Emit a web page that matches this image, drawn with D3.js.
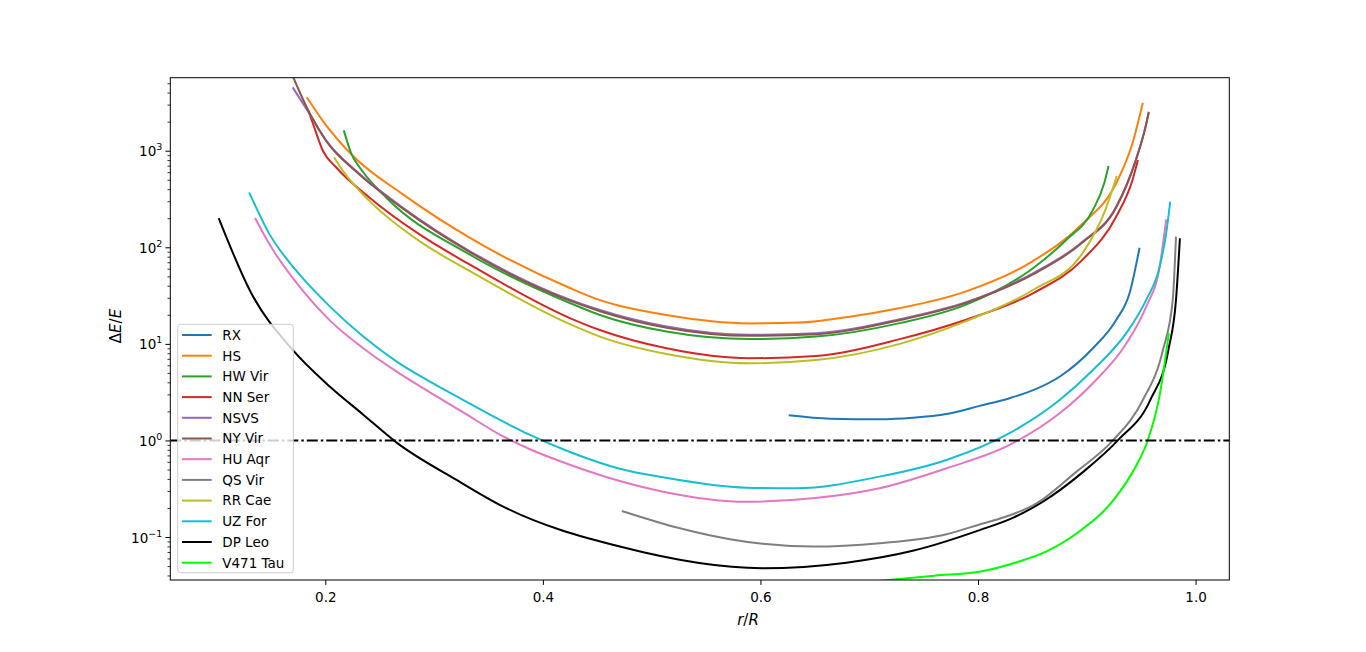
<!DOCTYPE html>
<html>
<head>
<meta charset="utf-8">
<script src="https://cdn.jsdelivr.net/npm/d3@7"></script>
<style>
  html, body { margin: 0; padding: 0; background: #fff; }
  svg { display: block; font-family: "DejaVu Sans", sans-serif; }
</style>
</head>
<body>
<div id="chart"></div>
<script>
// Series data: [r/R, dE/E] pairs
const rx = [[0.626, 1.82], [0.664, 1.68], [0.7095, 1.66], [0.74, 1.72], [0.771, 1.88], [0.8015, 2.28],
  [0.829, 2.74], [0.853, 3.4], [0.875, 4.57], [0.9056, 9.0], [0.927, 17.7], [0.9393, 33.4], [0.9485, 99]];
const hs = [[0.183, 3573], [0.198, 2014], [0.2257, 875], [0.2717, 351], [0.333, 125],
  [0.4248, 37.9], [0.4524, 28.4], [0.5137, 19.9], [0.590, 16.3], [0.636, 16.6], [0.682, 19.1],
  [0.7187, 22.4], [0.789, 35], [0.8505, 72], [0.896, 175], [0.927, 460], [0.942, 1193], [0.9515, 3140]];
const hwVir = [[0.217, 1626], [0.2243, 910], [0.232, 662], [0.2564, 324], [0.333, 83.8],
  [0.4248, 26.5], [0.4524, 19.9], [0.5137, 13.4], [0.590, 11.2], [0.651, 11.9], [0.728, 16.4],
  [0.789, 25.5], [0.8505, 60.7], [0.881, 119], [0.9056, 243], [0.916, 460], [0.920, 695]];
const nnSer = [[0.1844, 2596], [0.189, 1857], [0.198, 986], [0.2105, 662], [0.241, 324], [0.287, 135],
  [0.333, 66], [0.4248, 18.5], [0.4524, 13.9], [0.5137, 9.0], [0.590, 7.1],
  [0.651, 7.5], [0.728, 11.2], [0.789, 17.8], [0.8505, 33.4], [0.896, 74], [0.927, 207],
  [0.942, 497], [0.947, 801]];
const nsvs = [[0.170, 4530], [0.186, 2360], [0.2013, 1250], [0.2288, 612], [0.2717, 255], [0.333, 91],
  [0.4248, 28.7], [0.4524, 22.4], [0.5137, 15.1], [0.590, 12.4], [0.651, 12.9],
  [0.728, 18], [0.789, 27], [0.8505, 53.8], [0.896, 114], [0.927, 263], [0.945, 801], [0.954, 1770],
  [0.957, 2535]];
const nyVir = [[0.1686, 6500], [0.1767, 3980], [0.186, 2400], [0.2013, 1240], [0.2288, 600], [0.2717, 250],
  [0.333, 89], [0.4248, 28], [0.4524, 21.8], [0.5137, 14.7], [0.590, 12.1],
  [0.651, 12.6], [0.728, 17.6], [0.789, 26.6], [0.8505, 52.5], [0.896, 112], [0.927, 258],
  [0.945, 790], [0.954, 1760], [0.957, 2500]];
const huAqr = [[0.1354, 201], [0.149, 106], [0.1798, 35], [0.2043, 17.4], [0.2349, 9.0], [0.2656, 5.15],
  [0.2962, 3.15], [0.3268, 1.95], [0.3635, 1.1], [0.3881, 0.81], [0.4248, 0.56], [0.4707, 0.38],
  [0.5105, 0.295], [0.587, 0.232], [0.648, 0.252], [0.7095, 0.32], [0.771, 0.515], [0.829, 0.898],
  [0.875, 1.91], [0.9056, 3.91], [0.9363, 10.1], [0.9546, 24.3], [0.967, 63], [0.973, 195]];
const qsVir = [[0.4726, 0.186], [0.526, 0.123], [0.572, 0.0948], [0.602, 0.085], [0.648, 0.0796],
  [0.7095, 0.0863], [0.771, 0.107], [0.8015, 0.135], [0.832, 0.172], [0.8535, 0.222], [0.890, 0.47],
  [0.924, 1.0], [0.9515, 2.62], [0.970, 8.65], [0.979, 28.5], [0.982, 129]];
const rrCae = [[0.208, 855], [0.2165, 612], [0.241, 299], [0.287, 115], [0.333, 56.5],
  [0.4248, 16], [0.4524, 11.9], [0.5137, 7.86], [0.590, 6.3], [0.651, 6.8], [0.728, 10],
  [0.789, 17.2], [0.8505, 36.1], [0.896, 86.7], [0.917, 243], [0.9276, 547]];
const uzFor = [[0.130, 371], [0.148, 141], [0.1737, 56.5], [0.2043, 24.3], [0.2349, 11.9], [0.2656, 6.55],
  [0.2962, 4.06], [0.3268, 2.62], [0.3575, 1.70], [0.3881, 1.14], [0.4248, 0.76], [0.4707, 0.51],
  [0.5105, 0.415], [0.587, 0.324], [0.633, 0.32], [0.7095, 0.422], [0.771, 0.628], [0.829, 1.19],
  [0.875, 2.62], [0.9056, 5.37], [0.9363, 12.9], [0.9546, 28.5], [0.967, 63], [0.973, 140], [0.9767, 297]];
const dpLeo = [[0.102, 201], [0.131, 35.1], [0.170, 8.65], [0.2043, 3.6], [0.2349, 1.85], [0.2656, 0.95],
  [0.3207, 0.39], [0.3635, 0.2065], [0.4707, 0.0796], [0.602, 0.0475], [0.679, 0.0543], [0.740, 0.072],
  [0.8015, 0.118], [0.832, 0.158], [0.8596, 0.232], [0.8964, 0.47], [0.9285, 1.0], [0.9583, 2.62],
  [0.975, 8.65], [0.982, 28.5], [0.9856, 124]];
const v471Tau = [[0.71, 0.0352], [0.76, 0.0398], [0.8015, 0.0438], [0.835, 0.0545], [0.863, 0.071],
  [0.893, 0.114], [0.925, 0.245], [0.945, 0.537], [0.956, 1.0], [0.967, 2.95], [0.9754, 12.9]];

const seriesNames = ['RX', 'HS', 'HW Vir', 'NN Ser', 'NSVS', 'NY Vir', 'HU Aqr', 'QS Vir', 'RR Cae',
  'UZ For', 'DP Leo', 'V471 Tau'];
const seriesData = [rx, hs, hwVir, nnSer, nsvs, nyVir, huAqr, qsVir, rrCae, uzFor, dpLeo, v471Tau];
const seriesColors = ['#1f77b4', '#ff7f0e', '#2ca02c', '#d62728', '#9467bd', '#8c564b', '#e377c2',
  '#7f7f7f', '#bcbd22', '#17becf', '#000000', '#00ff00'];

const xTicks = [0.2, 0.4, 0.6, 0.8, 1.0];
const yTicks = [0.1, 1, 10, 100, 1000];
const yTickExp = ['\u22121', '0', '1', '2', '3'];
const refLevel = 1;

const width = 1366;
const height = 652;
const plot = { left: 170.3, right: 1229.3, top: 77.7, bottom: 580 };

const svg = d3.select('#chart')
  .append('svg')
  .attr('width', width)
  .attr('height', height);

// Scales
const x = d3.scaleLinear()
  .domain([0.0575, 1.031])
  .range([plot.left, plot.right]);

const y = d3.scaleLog()
  .domain([Math.pow(10, -1.445), Math.pow(10, 3.756)])
  .range([plot.bottom, plot.top]);

svg.append('defs').append('clipPath')
  .attr('id', 'plot-clip')
  .append('rect')
  .attr('x', plot.left)
  .attr('y', plot.top)
  .attr('width', plot.right - plot.left)
  .attr('height', plot.bottom - plot.top);

// Curves
const line = d3.line()
  .x(d => x(d[0]))
  .y(d => y(d[1]))
  .curve(d3.curveMonotoneX);

const curves = svg.append('g').attr('clip-path', 'url(#plot-clip)');

seriesData.forEach((data, i) => {
  curves.append('path')
    .datum(data)
    .attr('d', line)
    .attr('fill', 'none')
    .attr('stroke', seriesColors[i])
    .attr('stroke-width', 2)
    .attr('stroke-linejoin', 'round');
});

// Reference line at dE/E = 1
curves.append('line')
  .attr('x1', plot.left)
  .attr('x2', plot.right)
  .attr('y1', y(refLevel))
  .attr('y2', y(refLevel))
  .attr('stroke', '#000')
  .attr('stroke-width', 2)
  .attr('stroke-dasharray', '11,3,2.5,3');

// Frame
svg.append('rect')
  .attr('x', plot.left)
  .attr('y', plot.top)
  .attr('width', plot.right - plot.left)
  .attr('height', plot.bottom - plot.top)
  .attr('fill', 'none')
  .attr('stroke', '#000')
  .attr('stroke-width', 1);

// X axis
const xAxis = svg.append('g')
  .attr('transform', `translate(0,${plot.bottom})`)
  .call(d3.axisBottom(x)
    .tickValues(xTicks)
    .tickFormat(d3.format('.1f'))
    .tickSize(4.9)
    .tickPadding(7.9));
xAxis.select('.domain').remove();
xAxis.selectAll('text').attr('font-size', 13.5).attr('fill', '#000').attr('font-family', 'DejaVu Sans');
xAxis.selectAll('line').attr('stroke', '#000').attr('stroke-width', 1);

// Y axis: major ticks with 10^n labels
const yAxis = svg.append('g')
  .attr('transform', `translate(${plot.left},0)`)
  .call(d3.axisLeft(y)
    .tickValues(yTicks)
    .tickFormat(() => '')
    .tickSize(4.9));
yAxis.select('.domain').remove();
yAxis.selectAll('line').attr('stroke', '#000').attr('stroke-width', 1);

yAxis.selectAll('.tick').each(function(d, i) {
  const t = d3.select(this).append('text')
    .attr('x', -8)
    .attr('y', 5)
    .attr('text-anchor', 'end')
    .attr('fill', '#000')
    .attr('font-size', 13.5)
    .attr('font-family', 'DejaVu Sans');
  t.append('tspan').text('10');
  t.append('tspan')
    .attr('dy', -6)
    .attr('font-size', 9.5)
    .text(yTickExp[i]);
});

// Y axis: minor ticks
const minorTicks = [];
const [yLo, yHi] = y.domain();
for (let e = -2; e <= 3; e++) {
  for (let k = 2; k <= 9; k++) {
    const v = k * Math.pow(10, e);
    if (v >= yLo && v <= yHi) minorTicks.push(v);
  }
}
svg.append('g')
  .attr('transform', `translate(${plot.left},0)`)
  .call(d3.axisLeft(y).tickValues(minorTicks).tickFormat(() => '').tickSize(2.8))
  .call(g => g.select('.domain').remove())
  .call(g => g.selectAll('line').attr('stroke', '#000').attr('stroke-width', 0.8));

// Axis labels
const yLabel = svg.append('text')
  .attr('transform', 'translate(121,326) rotate(-90)')
  .attr('text-anchor', 'middle')
  .attr('font-size', 15)
  .attr('fill', '#000');
yLabel.append('tspan').text('\u0394');
yLabel.append('tspan').attr('font-style', 'italic').text('E');
yLabel.append('tspan').text('/');
yLabel.append('tspan').attr('font-style', 'italic').text('E');

const xLabel = svg.append('text')
  .attr('x', 748)
  .attr('y', 625)
  .attr('text-anchor', 'middle')
  .attr('font-size', 15)
  .attr('fill', '#000');
xLabel.append('tspan').attr('font-style', 'italic').text('r');
xLabel.append('tspan').text('/');
xLabel.append('tspan').attr('font-style', 'italic').text('R');

// Legend
const legend = svg.append('g').attr('transform', 'translate(177.7,324.3)');
legend.append('rect')
  .attr('width', 115.6)
  .attr('height', 248.4)
  .attr('rx', 3)
  .attr('fill', '#fff')
  .attr('fill-opacity', 0.8)
  .attr('stroke', '#cccccc')
  .attr('stroke-width', 1);

seriesNames.forEach((name, i) => {
  const row = legend.append('g').attr('transform', `translate(0,${10.7 + i * 20.7})`);
  row.append('line')
    .attr('x1', 4.3)
    .attr('x2', 34)
    .attr('stroke', seriesColors[i])
    .attr('stroke-width', 2);
  row.append('text')
    .attr('x', 44.6)
    .attr('y', 4.8)
    .attr('font-size', 13.5)
    .attr('fill', '#000')
    .text(name);
});
</script>
</body>
</html>
